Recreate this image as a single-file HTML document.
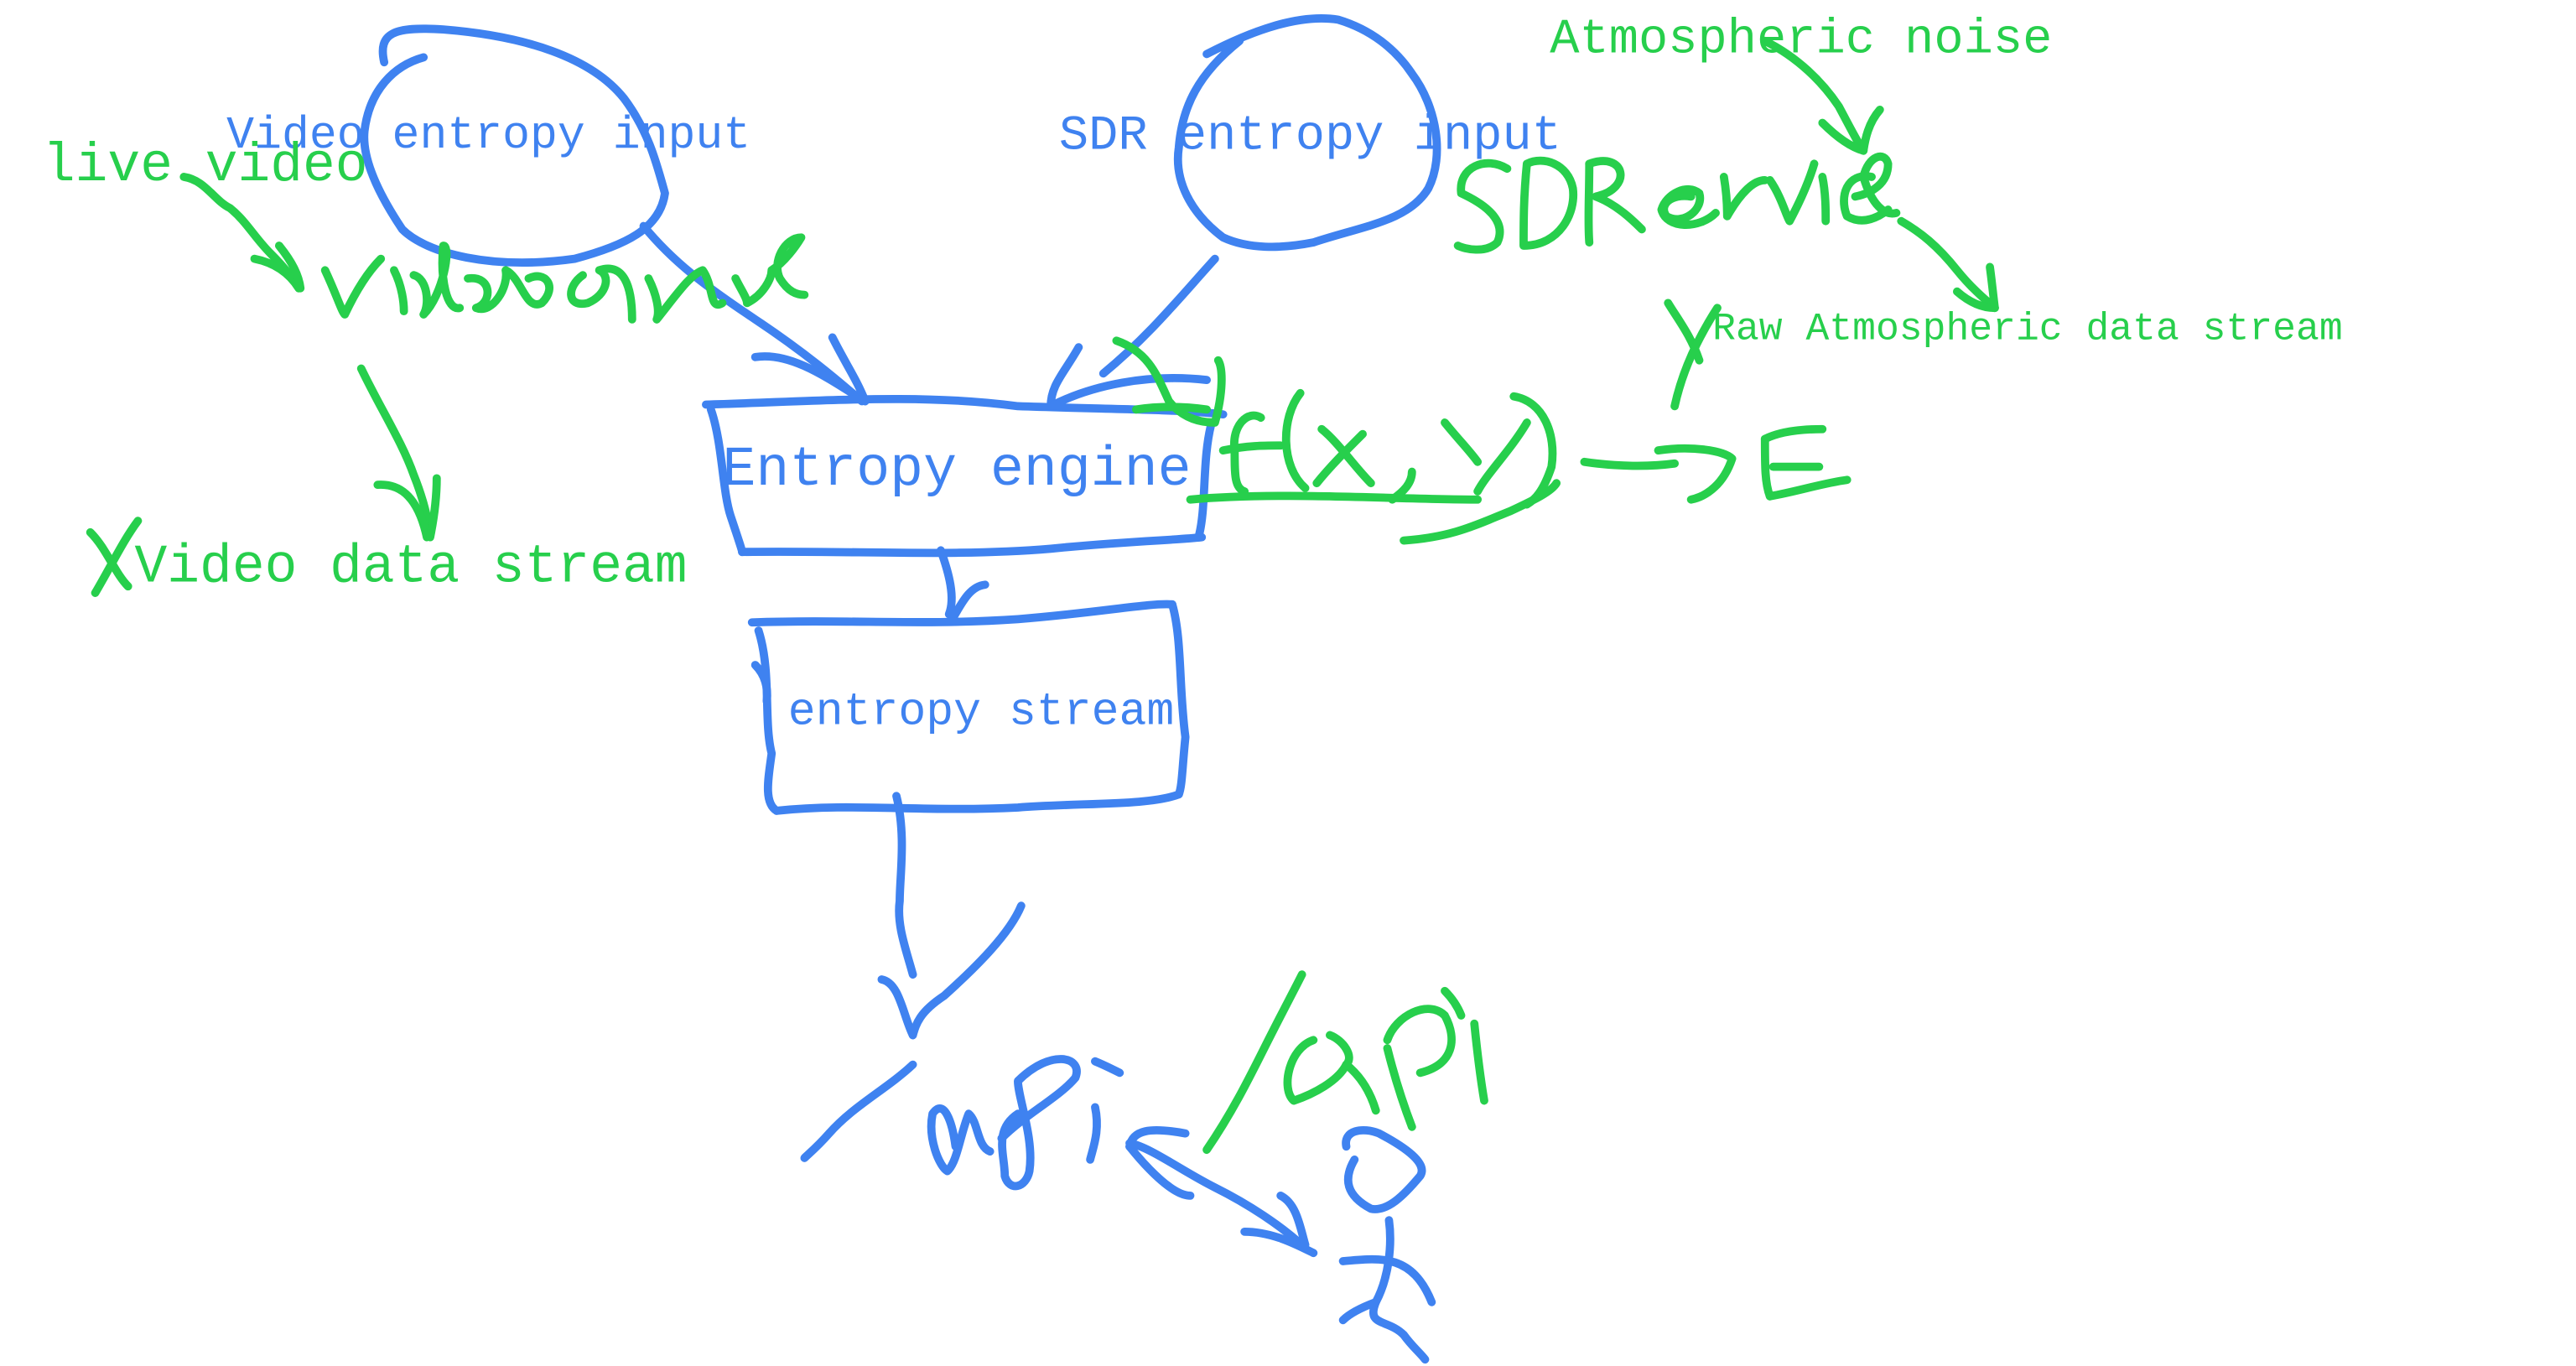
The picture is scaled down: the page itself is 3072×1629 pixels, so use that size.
<!DOCTYPE html>
<html><head><meta charset="utf-8">
<style>
html,body{margin:0;padding:0;background:#fff;}
svg{display:block;}
text{font-family:"Liberation Mono",monospace;}
</style></head>
<body>
<svg width="3072" height="1629" viewBox="0 0 1569 834" preserveAspectRatio="none" xmlns="http://www.w3.org/2000/svg">
<g fill="none" stroke="#3f82f0" stroke-width="5" stroke-linecap="round" stroke-linejoin="round">
<path d="M234,38 C230,20 240,16 270,18 C320,22 360,35 380,60 C395,80 400,100 405,118 C402,140 380,150 350,158 C300,165 260,155 245,140 C235,125 220,100 222,80 C225,55 240,40 258,35"/>
<path d="M392,138 C410,160 430,175 460,195 C490,215 510,232 525,245"/>
<path d="M460,218 C480,215 500,228 522,242"/>
<path d="M507,206 C515,222 522,232 527,245"/>
<path d="M735,33 C760,20 790,8 815,12 C835,18 850,30 860,45 C875,65 880,95 870,115 C858,135 830,138 800,148 C780,152 760,152 745,145 C725,130 715,110 718,90 C720,65 730,45 755,25"/>
<path d="M740,158 C720,180 700,205 672,228"/>
<path d="M657,212 C648,228 640,235 640,248"/>
<path d="M640,248 C665,235 700,228 735,232"/>
<path d="M430,247 C500,245 560,240 620,248 C680,250 720,250 745,253"/>
<path d="M433,250 C440,270 440,300 445,315 C450,330 452,336 452,337"/>
<path d="M452,337 C520,336 580,340 640,335 C690,330 715,330 732,328"/>
<path d="M738,258 C732,280 735,310 730,328"/>
<path d="M573,336 C578,350 582,365 578,375"/>
<path d="M600,357 C590,358 585,370 580,378"/>
<path d="M458,380 C520,378 560,382 620,378 C670,374 700,368 714,369"/>
<path d="M462,385 C470,410 465,440 470,460 C468,475 465,490 473,495"/>
<path d="M460,406 C466,412 468,420 467,428"/>
<path d="M473,495 C520,490 560,496 620,493 C660,490 700,492 718,485"/>
<path d="M714,369 C720,390 718,420 722,450 C720,470 720,480 718,485"/>
<path d="M546,486 C552,510 548,535 548,550 C546,565 552,580 556,595"/>
<path d="M622,553 C615,570 595,590 575,608 C560,618 558,625 556,632"/>
<path d="M537,598 C548,600 550,620 556,632"/>
<path d="M556,650 C540,665 520,675 505,692 C498,700 492,705 490,707"/>
<path d="M582,700 C580,685 575,670 568,680 C565,695 572,712 577,715 C583,710 585,692 590,680 C596,685 595,700 603,703"/>
<path d="M620,680 C605,690 612,705 612,718 C615,728 625,725 627,715 C630,695 620,670 620,660 C640,640 660,645 655,658 C645,670 625,680 610,695"/>
<path d="M667,648 C672,650 676,652 682,655"/>
<path d="M667,676 C670,690 666,700 664,708"/>
<path d="M722,692 C700,688 690,690 688,700"/>
<path d="M688,700 C700,715 715,730 725,730"/>
<path d="M688,698 C700,700 720,715 740,725 C760,735 780,748 795,762"/>
<path d="M758,752 C775,752 790,760 800,765"/>
<path d="M780,730 C790,735 792,750 795,760"/>
<path d="M820,700 C818,690 830,688 840,692 C855,700 870,710 865,718 C855,730 845,740 835,738 C820,730 818,720 825,708"/>
<path d="M846,745 C848,760 846,780 838,795 C832,810 845,805 855,815 C860,822 865,826 868,830"/>
<path d="M818,770 C840,768 860,765 872,795"/>
<path d="M838,795 C830,798 822,802 818,806"/>
</g>
<g fill="none" stroke="#27cf4c" stroke-width="5" stroke-linecap="round" stroke-linejoin="round">
<path d="M112,108 C125,110 130,122 140,127 C150,135 155,145 165,155 C175,165 178,170 182,176"/>
<path d="M155,158 C165,160 175,165 182,176"/>
<path d="M170,150 C178,160 182,168 183,176"/>
<path d="M198,165 C205,180 208,190 210,192 C218,175 225,165 232,158"/>
<path d="M240,165 C245,175 246,185 246,190"/>
<path d="M252,168 C260,170 262,185 258,192 C270,180 275,150 270,150 C268,170 272,190 280,188"/>
<path d="M285,170 C300,168 300,185 290,188 C300,192 310,175 308,165 C318,170 320,190 330,185 C340,175 332,165 322,170"/>
<path d="M355,168 C345,175 345,188 358,185 C370,180 372,168 365,165 C380,160 385,175 385,195"/>
<path d="M395,170 C400,180 402,190 400,195 C412,180 420,168 428,165 C435,175 432,190 440,185"/>
<path d="M448,170 C452,178 455,182 455,185 C465,180 470,170 470,165 C478,160 485,150 488,145 C478,145 470,160 475,170 C480,178 485,180 490,180"/>
<path d="M220,225 C232,250 245,270 252,290 C258,305 260,315 262,325"/>
<path d="M230,296 C245,295 255,305 260,328"/>
<path d="M266,292 C266,305 264,318 262,328"/>
<path d="M55,325 C65,335 70,350 78,358"/>
<path d="M84,318 C75,330 68,345 58,362"/>
<path d="M918,103 C905,95 888,102 890,118 C905,125 918,135 912,148 C905,155 892,152 888,150"/>
<path d="M930,100 C928,120 928,135 928,150 C950,150 960,130 958,115 C955,100 940,95 930,100"/>
<path d="M968,100 C968,120 967,135 968,148"/>
<path d="M968,100 C990,92 995,115 972,120 C985,125 995,135 1000,140"/>
<path d="M1030,120 C1018,118 1010,125 1015,132 C1025,138 1038,128 1035,118 C1028,112 1015,118 1012,128 C1015,140 1035,140 1045,130"/>
<path d="M1050,108 C1052,120 1052,128 1052,132 C1060,118 1068,110 1075,110"/>
<path d="M1078,110 C1085,120 1088,132 1090,135 C1098,120 1102,110 1105,100"/>
<path d="M1110,108 C1112,118 1112,128 1112,135"/>
<path d="M1140,108 C1125,105 1120,120 1125,132 C1135,138 1145,132 1150,128"/>
<path d="M1130,120 C1140,118 1150,112 1150,100 C1148,92 1138,95 1135,108 C1140,125 1148,132 1155,130"/>
<path d="M1075,25 C1095,35 1110,50 1120,65 C1128,80 1132,88 1135,92"/>
<path d="M1110,75 C1120,85 1128,90 1135,92"/>
<path d="M1145,67 C1138,75 1136,85 1135,92"/>
<path d="M1158,135 C1170,142 1180,150 1192,165 C1200,175 1208,182 1215,188"/>
<path d="M1192,178 C1200,185 1208,188 1215,188"/>
<path d="M1212,163 C1213,170 1214,180 1215,188"/>
<path d="M1016,185 C1022,195 1030,205 1035,220"/>
<path d="M1046,188 C1035,205 1025,225 1020,248"/>
<path d="M680,208 C700,215 705,230 712,245 C720,255 730,258 740,258 C745,240 745,225 742,220"/>
<path d="M692,250 C705,248 720,248 735,250"/>
<path d="M768,255 C760,250 750,260 752,275 C752,290 752,298 758,300"/>
<path d="M745,275 C760,272 770,272 780,272"/>
<path d="M792,240 C780,255 780,285 795,298"/>
<path d="M805,262 C815,270 825,285 835,295"/>
<path d="M830,265 C820,275 810,285 802,295"/>
<path d="M860,288 C860,295 855,300 848,305"/>
<path d="M880,258 C888,268 895,275 900,282"/>
<path d="M930,258 C920,275 905,290 900,300"/>
<path d="M922,242 C940,245 948,265 945,285 C940,300 935,305 930,308"/>
<path d="M725,305 C780,300 850,305 900,305"/>
<path d="M855,330 C885,328 900,320 920,312 C935,305 945,300 948,295"/>
<path d="M965,282 C985,285 1005,285 1020,283"/>
<path d="M1010,275 C1030,272 1050,275 1055,280 C1050,295 1040,303 1030,305"/>
<path d="M1075,268 C1085,263 1100,262 1110,262"/>
<path d="M1075,268 C1075,285 1075,295 1078,303"/>
<path d="M1080,285 C1095,285 1105,285 1108,285"/>
<path d="M1078,303 C1095,300 1110,295 1125,293"/>
<path d="M793,595 C788,605 780,620 770,640 C760,660 750,680 735,702"/>
<path d="M800,635 C785,640 780,665 788,672 C800,668 815,660 820,650 C825,645 818,635 810,632"/>
<path d="M820,650 C830,658 835,668 838,678"/>
<path d="M845,640 C850,660 855,675 860,688"/>
<path d="M845,635 C850,620 870,610 880,620 C888,635 885,650 865,655"/>
<path d="M880,605 C885,610 888,615 890,620"/>
<path d="M898,625 C900,645 902,660 904,672"/>
</g>
<g font-size="28" fill="#3f82f0">
<text x="138" y="90">Video entropy input</text>
<text x="645" y="91" font-size="30">SDR entropy input</text>
<text x="440" y="296" font-size="34">Entropy engine</text>
<text x="480" y="442">entropy stream</text>
</g>
<g fill="#27cf4c">
<text x="26" y="110" font-size="33">live video</text>
<text x="82" y="355" font-size="33">Video data stream</text>
<text x="944" y="32" font-size="30">Atmospheric noise</text>
<text x="1043" y="207" font-size="23.7">Raw Atmospheric data stream</text>
</g>
</svg>
</body></html>
